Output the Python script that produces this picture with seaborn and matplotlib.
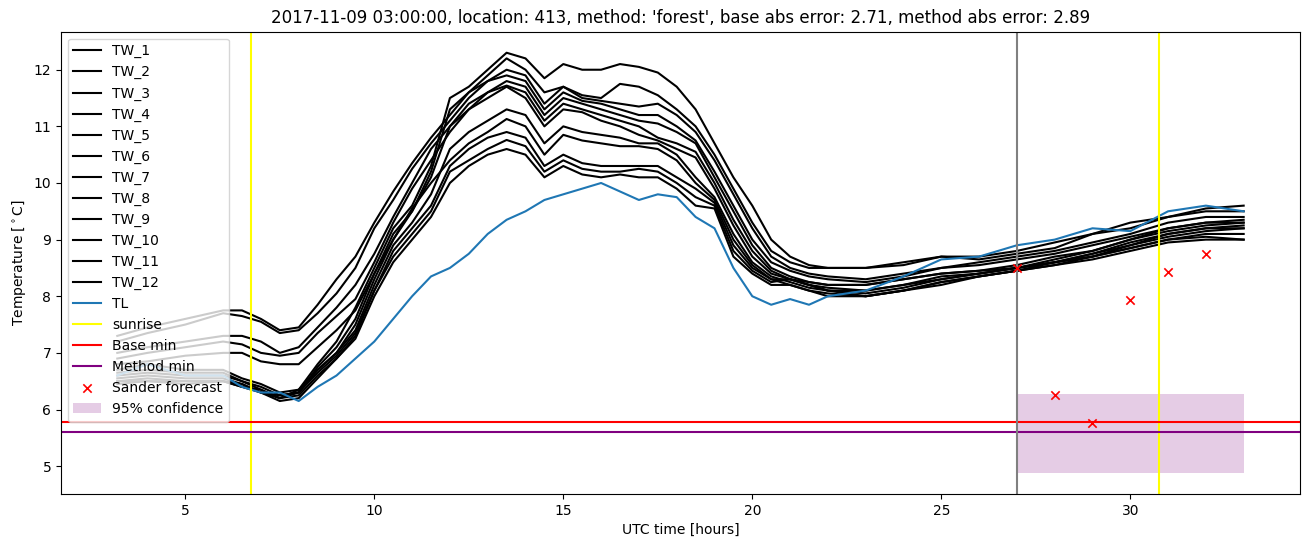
import matplotlib
matplotlib.use("Agg")
import matplotlib.pyplot as plt
import seaborn as sns

# ---- data -------------------------------------------------------------
hours = [3.2, 4, 5, 6, 6.5, 7, 7.5, 8, 8.5, 9, 9.5, 10, 10.5, 11, 11.5, 12, 12.5, 13,
         13.5, 14, 14.5, 15, 15.5, 16, 16.5, 17, 17.5, 18, 18.5, 19, 19.5, 20, 20.5,
         21, 21.5, 22, 23, 24, 25, 26, 27, 28, 29, 30, 31, 32, 33]

tw_1 = [6.7, 6.8, 6.7, 6.7, 6.55, 6.45, 6.3, 6.35, 6.8, 7.2, 7.8, 8.5, 9.2, 9.6, 10.3, 11.5, 11.7, 12.0,
        12.3, 12.2, 11.85, 12.1, 12.0, 12.0, 12.1, 12.05, 11.95, 11.7, 11.3, 10.7, 10.1, 9.6, 9.0,
        8.7, 8.55, 8.5, 8.5, 8.55, 8.7, 8.7, 8.8, 8.95, 9.1, 9.3, 9.4, 9.55, 9.6]
tw_2 = [7.3, 7.45, 7.6, 7.75, 7.75, 7.6, 7.4, 7.45, 7.85, 8.3, 8.7, 9.3, 9.85, 10.35, 10.8, 11.2, 11.6, 11.9,
        12.2, 12.0, 11.6, 11.7, 11.55, 11.5, 11.75, 11.7, 11.55, 11.3, 11.0, 10.5, 9.9, 9.3, 8.8,
        8.6, 8.5, 8.5, 8.5, 8.6, 8.7, 8.65, 8.75, 8.85, 9.1, 9.2, 9.4, 9.5, 9.5]
tw_3 = [7.2, 7.35, 7.5, 7.7, 7.65, 7.55, 7.35, 7.4, 7.7, 8.05, 8.5, 9.2, 9.7, 10.25, 10.7, 11.1, 11.5, 11.8,
        12.0, 11.9, 11.4, 11.7, 11.5, 11.45, 11.4, 11.35, 11.4, 11.2, 10.9, 10.4, 9.8, 9.2, 8.7,
        8.5, 8.4, 8.35, 8.3, 8.4, 8.5, 8.6, 8.7, 8.8, 8.95, 9.1, 9.3, 9.4, 9.4]
tw_4 = [6.65, 6.7, 6.65, 6.65, 6.5, 6.4, 6.25, 6.3, 6.75, 7.1, 7.6, 8.4, 9.1, 9.5, 10.2, 11.3, 11.6, 11.8,
        11.9, 11.8, 11.3, 11.6, 11.45, 11.4, 11.3, 11.2, 11.2, 11.0, 10.75, 10.2, 9.6, 9.0, 8.6,
        8.45, 8.35, 8.3, 8.25, 8.35, 8.5, 8.55, 8.65, 8.75, 8.9, 9.05, 9.2, 9.3, 9.35]
tw_5 = [7.0, 7.1, 7.2, 7.3, 7.3, 7.2, 7.0, 7.1, 7.45, 7.8, 8.2, 8.75, 9.4, 10.0, 10.6, 11.0, 11.3, 11.6,
        11.8, 11.7, 11.2, 11.5, 11.4, 11.3, 11.2, 11.1, 11.05, 10.9, 10.7, 10.1, 9.5, 8.9, 8.5,
        8.35, 8.25, 8.2, 8.2, 8.3, 8.4, 8.45, 8.55, 8.7, 8.8, 9.0, 9.15, 9.25, 9.3]
tw_6 = [6.6, 6.65, 6.6, 6.6, 6.5, 6.35, 6.2, 6.3, 6.7, 7.0, 7.5, 8.3, 9.0, 9.5, 10.1, 11.0, 11.4, 11.6,
        11.72, 11.6, 11.1, 11.4, 11.3, 11.2, 11.1, 11.0, 10.8, 10.7, 10.55, 10.0, 9.35, 8.8, 8.45,
        8.3, 8.2, 8.15, 8.1, 8.2, 8.35, 8.4, 8.5, 8.6, 8.75, 8.95, 9.1, 9.2, 9.25]
tw_7 = [6.9, 7.0, 7.1, 7.2, 7.15, 7.0, 6.95, 7.0, 7.35, 7.65, 7.95, 8.6, 9.3, 9.9, 10.4, 10.9, 11.3, 11.5,
        11.7, 11.5, 11.0, 11.3, 11.25, 11.1, 11.0, 10.85, 10.75, 10.6, 10.45, 9.9, 9.25, 8.7, 8.4,
        8.3, 8.2, 8.1, 8.1, 8.2, 8.3, 8.4, 8.5, 8.6, 8.7, 8.9, 9.1, 9.2, 9.2]
tw_8 = [6.55, 6.6, 6.55, 6.55, 6.45, 6.3, 6.2, 6.35, 6.7, 7.0, 7.4, 8.2, 8.9, 9.3, 9.8, 10.6, 10.9, 11.1,
        11.3, 11.2, 10.7, 11.0, 10.9, 10.85, 10.8, 10.7, 10.7, 10.5, 10.1, 9.75, 9.1, 8.6, 8.35,
        8.25, 8.15, 8.1, 8.05, 8.15, 8.3, 8.4, 8.5, 8.6, 8.7, 8.85, 9.0, 9.1, 9.1]
tw_9 = [6.8, 6.85, 6.95, 7.0, 7.0, 6.85, 6.8, 6.8, 7.1, 7.4, 7.75, 8.4, 9.0, 9.55, 10.0, 10.4, 10.7, 10.9,
        11.13, 11.0, 10.5, 10.85, 10.75, 10.7, 10.65, 10.65, 10.6, 10.4, 10.0, 9.7, 9.0, 8.55, 8.3,
        8.3, 8.2, 8.1, 8.0, 8.1, 8.25, 8.35, 8.45, 8.55, 8.7, 8.85, 9.0, 9.05, 9.0]
tw_10 = [6.5, 6.55, 6.5, 6.5, 6.45, 6.3, 6.25, 6.3, 6.65, 6.95, 7.35, 8.1, 8.8, 9.2, 9.6, 10.3, 10.6, 10.8,
         10.9, 10.8, 10.3, 10.5, 10.35, 10.3, 10.3, 10.3, 10.3, 10.1, 9.9, 9.65, 8.9, 8.5, 8.3,
         8.2, 8.1, 8.05, 8.0, 8.1, 8.2, 8.35, 8.45, 8.55, 8.65, 8.8, 8.95, 9.0, 9.0]
tw_11 = [6.5, 6.5, 6.5, 6.5, 6.4, 6.35, 6.2, 6.25, 6.6, 6.9, 7.3, 8.1, 8.7, 9.1, 9.5, 10.2, 10.4, 10.6,
         10.76, 10.65, 10.2, 10.4, 10.25, 10.2, 10.2, 10.25, 10.2, 10.0, 9.75, 9.6, 8.8, 8.45, 8.25,
         8.3, 8.25, 8.2, 8.2, 8.3, 8.4, 8.45, 8.5, 8.65, 8.8, 9.0, 9.2, 9.3, 9.3]
tw_12 = [6.45, 6.5, 6.45, 6.5, 6.4, 6.3, 6.15, 6.2, 6.55, 6.9, 7.25, 8.0, 8.6, 9.0, 9.4, 10.0, 10.3, 10.5,
         10.6, 10.5, 10.1, 10.3, 10.15, 10.1, 10.15, 10.1, 10.1, 9.9, 9.6, 9.55, 8.7, 8.4, 8.2,
         8.2, 8.1, 8.0, 8.0, 8.1, 8.25, 8.35, 8.45, 8.6, 8.75, 8.9, 9.05, 9.15, 9.2]
tl = [6.6, 6.8, 6.6, 6.6, 6.4, 6.3, 6.3, 6.15, 6.4, 6.6, 6.9, 7.2, 7.6, 8.0, 8.35, 8.5, 8.75, 9.1,
      9.35, 9.5, 9.7, 9.8, 9.9, 10.0, 9.85, 9.7, 9.8, 9.75, 9.4, 9.2, 8.5, 8.0, 7.85,
      7.95, 7.85, 8.0, 8.1, 8.35, 8.65, 8.7, 8.9, 9.0, 9.2, 9.15, 9.5, 9.6, 9.5]

tw_series = [tw_1, tw_2, tw_3, tw_4, tw_5, tw_6, tw_7, tw_8, tw_9, tw_10, tw_11, tw_12]
tw_labels = ["TW_%d" % i for i in range(1, 13)]

sunrise_hours = [6.75, 30.77]
now_hour = 27.0
base_min = 5.78
method_min = 5.60
forecast_hours = [27, 28, 29, 30, 31, 32]
forecast_vals = [8.49, 6.25, 5.77, 7.93, 8.42, 8.75]
conf_hours = [27, 33]
conf_low = 4.88
conf_high = 6.27

title = ("2017-11-09 03:00:00, location: 413, method: 'forest', "
         "base abs error: 2.71, method abs error: 2.89")

# ---- plot -------------------------------------------------------------
fig, ax = plt.subplots(figsize=(13.11, 5.47), dpi=100)
fig.subplots_adjust(left=0.0465, right=0.9916, bottom=0.097, top=0.942)

for lab, vals in zip(tw_labels, tw_series):
    sns.lineplot(x=hours, y=vals, color="black", label=lab, ax=ax, linewidth=1.5)
sns.lineplot(x=hours, y=tl, color="#1f77b4", label="TL", ax=ax, linewidth=1.5)

ax.axvline(sunrise_hours[0], color="yellow", label="sunrise")
ax.axvline(sunrise_hours[1], color="yellow")
ax.axhline(base_min, color="red", label="Base min")
ax.axhline(method_min, color="purple", label="Method min")
ax.axvline(now_hour, color="gray")

sns.scatterplot(x=forecast_hours, y=forecast_vals, marker="x", color="red",
                s=36, linewidth=1.2, label="Sander forecast", ax=ax, zorder=3)
ax.fill_between(conf_hours, [conf_low] * 2, [conf_high] * 2, color="purple",
                alpha=0.2, linewidth=0, label="95% confidence")

ax.set_title(title)
ax.set_xlabel("UTC time [hours]")
ax.set_ylabel(r"Temperature [$^\circ$C]")
ax.legend(loc="upper left")

fig.savefig("out.png", dpi=100)
